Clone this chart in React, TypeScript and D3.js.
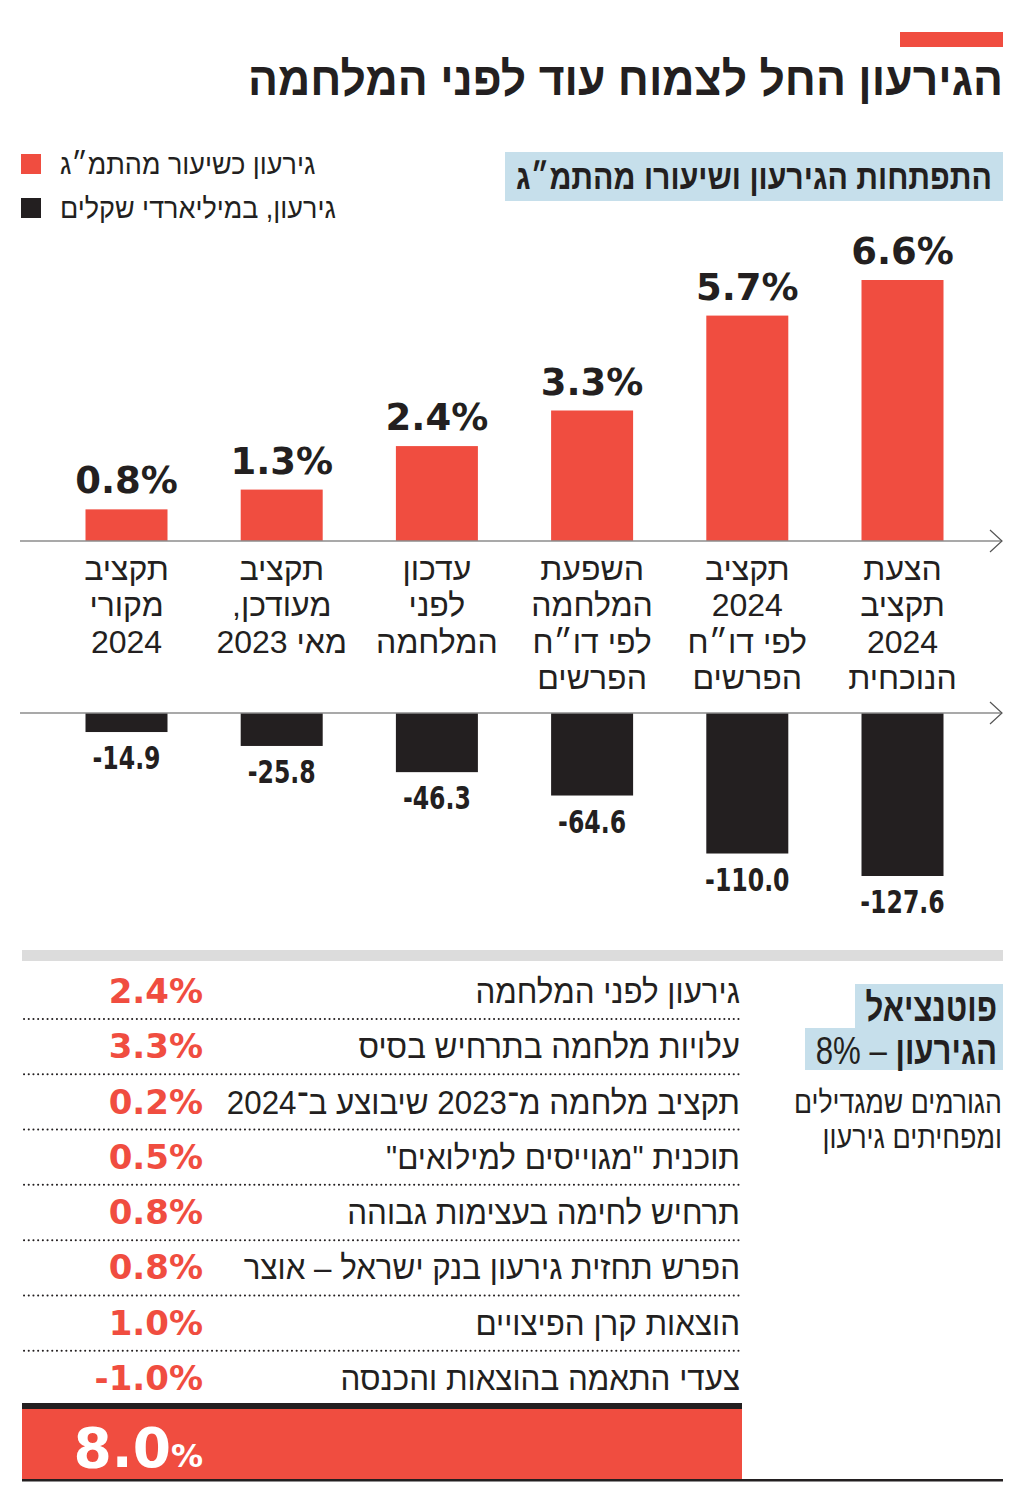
import * as d3 from 'd3';

// ---- data ----
const categories: string[][] = [
  ['תקציב', 'מקורי', '2024'],
  ['תקציב', 'מעודכן,', 'מאי 2023'],
  ['עדכון', 'לפני', 'המלחמה'],
  ['השפעת', 'המלחמה', 'לפי דו״ח', 'הפרשים'],
  ['תקציב', '2024', 'לפי דו״ח', 'הפרשים'],
  ['הצעת', 'תקציב', '2024', 'הנוכחית'],
];
const deficitPct = [0.8, 1.3, 2.4, 3.3, 5.7, 6.6];
const deficitBn = [-14.9, -25.8, -46.3, -64.6, -110.0, -127.6];

const factorLabels = [
  'גירעון לפני המלחמה',
  'עלויות מלחמה בתרחיש בסיס',
  'תקציב מלחמה מ־2023 שיבוצע ב־2024',
  'תוכנית "מגוייסים למילואים"',
  'תרחיש לחימה בעצימות גבוהה',
  'הפרש תחזית גירעון בנק ישראל – אוצר',
  'הוצאות קרן הפיצויים',
  'צעדי התאמה בהוצאות והכנסה',
];
const factorValues = [2.4, 3.3, 0.2, 0.5, 0.8, 0.8, 1.0, -1.0];

const legendItems = ['גירעון כשיעור מהתמ״ג', 'גירעון, במיליארדי שקלים'];

// ---- style ----
const W = 1024;
const H = 1496;
const RED = '#f04d40';
const INK = '#231f20';
const BLUE = '#c6dfeb';
const HEB = "'Liberation Sans', 'DejaVu Sans', sans-serif";
const NUM = "'DejaVu Sans', sans-serif";
const COND = "'DejaVu Sans Condensed', 'DejaVu Sans', sans-serif";

function HText(props: any) {
  const { x, y, size, weight = 400, anchor = 'start', sx = 1, fill = INK, family = HEB, dir = 'rtl', children, ls } = props;
  return (
    <text
      transform={`translate(${x},${y}) scale(${sx},1)`}
      fontSize={size}
      fontWeight={weight}
      textAnchor={anchor}
      fill={fill}
      fontFamily={family}
      letterSpacing={ls}
      style={{ direction: dir as any }}
    >
      {children}
    </text>
  );
}

function Arrow({ y }: { y: number }) {
  return (
    <g>
      <line x1={20} x2={1002} y1={y} y2={y} stroke="#8d8d8d" strokeWidth={1.5} />
      <path d={`M990,${y - 11} L1002,${y} L990,${y + 11}`} fill="none" stroke="#555" strokeWidth={1.2} />
    </g>
  );
}

export default function App() {
  const x = d3.scalePoint<number>().domain(d3.range(categories.length)).range([126.5, 902.5]);
  const barW = 82;
  const yPct = d3.scaleLinear().domain([0, 6.6]).range([541, 280]);
  const yBn = d3.scaleLinear().domain([0, -127.6]).range([713, 876]);

  const rowY = d3.scaleLinear().domain([0, factorLabels.length - 1]).range([1003, 1390]);
  const total = d3.sum(factorValues);
  const fmt = (v: number) => d3.format('.1f')(v).replace('−', '-');

  return (
    <svg width={W} height={H} viewBox={`0 0 ${W} ${H}`} style={{ display: 'block', margin: '-8px', background: '#fff' }}>
      {/* header */}
      <rect x={900} y={32} width={103} height={15} fill={RED} />
      <text x={1003} y={95} fontSize={47} fontWeight={700} fontFamily={HEB} fill={INK} textAnchor="start"
        style={{ direction: 'rtl' }} textLength={755} lengthAdjust="spacingAndGlyphs">
        הגירעון החל לצמוח עוד לפני המלחמה
      </text>

      {/* subtitle box */}
      <rect x={505} y={152} width={498} height={49} fill={BLUE} />
      <text x={992} y={189} fontSize={35} fontWeight={700} fontFamily={HEB} fill={INK} textAnchor="start"
        style={{ direction: 'rtl' }} textLength={476} lengthAdjust="spacingAndGlyphs">
        התפתחות הגירעון ושיעורו מהתמ״ג
      </text>

      {/* legend */}
      {legendItems.map((t, i) => (
        <g key={t}>
          <rect x={21} y={154 + i * 44} width={20} height={20} fill={i === 0 ? RED : INK} />
          <HText x={60} y={174 + i * 44} size={29} anchor="end" sx={0.93}>{t}</HText>
        </g>
      ))}

      {/* red bars */}
      {deficitPct.map((v, i) => (
        <g key={'p' + i}>
          <rect x={x(i)! - barW / 2} y={yPct(v)} width={barW} height={yPct(0) - yPct(v)} fill={RED} />
          <HText x={x(i)} y={yPct(v) - 16} size={37} weight={700} anchor="middle" family={NUM} dir="ltr">
            {fmt(v)}%
          </HText>
        </g>
      ))}
      <Arrow y={541} />

      {/* category labels */}
      {categories.map((lines, i) => (
        <g key={'c' + i}>
          {lines.map((l, j) => (
            <HText key={j} x={x(i)} y={580 + j * 36.3} size={32} anchor="middle" sx={1}>{l}</HText>
          ))}
        </g>
      ))}

      {/* black bars */}
      {deficitBn.map((v, i) => (
        <g key={'b' + i}>
          <rect x={x(i)! - barW / 2} y={yBn(0)} width={barW} height={yBn(v) - yBn(0)} fill={INK} />
          <HText x={x(i)} y={yBn(v) + 37} size={32} weight={700} anchor="middle" family={COND} dir="ltr" sx={0.82}>
            {'-' + fmt(-v)}
          </HText>
        </g>
      ))}
      <Arrow y={713} />

      {/* bottom section */}
      <rect x={22} y={950} width={981} height={11} fill="#dcdcdc" />

      <rect x={855} y={984} width={148} height={46} fill={BLUE} />
      <rect x={805} y={1028} width={198} height={42} fill={BLUE} />
      <HText x={997} y={1021} size={39} weight={700} sx={0.8}>פוטנציאל</HText>
      <HText x={997} y={1064} size={39} sx={0.8}>
        <tspan fontWeight={700}>הגירעון</tspan>
        <tspan> – 8%</tspan>
      </HText>
      <HText x={1002} y={1113} size={31} sx={0.86}>הגורמים שמגדילים</HText>
      <HText x={1002} y={1148} size={31} sx={0.87}>ומפחיתים גירעון</HText>

      {factorLabels.map((t, i) => (
        <g key={'f' + i}>
          <HText x={740} y={rowY(i)} size={33} sx={0.95}>{t}</HText>
          <HText x={203} y={rowY(i)} size={34} weight={700} anchor="end" family={NUM} dir="ltr" fill={RED}>
            {fmt(factorValues[i])}%
          </HText>
          {i < factorLabels.length - 1 && (
            <line x1={24} x2={742} y1={rowY(i) + 16} y2={rowY(i) + 16} stroke={INK} strokeWidth={2}
              strokeDasharray="0.1 4.6" strokeLinecap="round" />
          )}
        </g>
      ))}

      {/* total */}
      <rect x={22} y={1403} width={720} height={6} fill={INK} />
      <rect x={22} y={1409} width={720} height={70} fill={RED} />
      <rect x={22} y={1479} width={981} height={2.5} fill={INK} />
      <text x={203} y={1467} fontFamily={NUM} fontWeight={700} fill="#fff" textAnchor="end">
        <tspan fontSize={55}>{fmt(total)}</tspan>
        <tspan fontSize={32}>%</tspan>
      </text>
    </svg>
  );
}
